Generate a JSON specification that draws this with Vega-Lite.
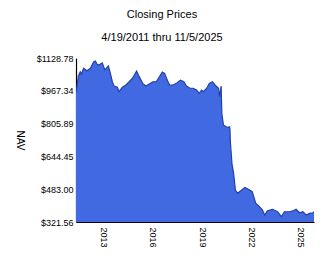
{
  "$schema": "https://vega.github.io/schema/vega-lite/v6.json",
  "width": 238,
  "height": 164,
  "autosize": "none",
  "padding": {"left": 76, "top": 58, "right": 10, "bottom": 45},
  "background": "white",
  "config": {
    "view": {"stroke": null},
    "font": "Liberation Sans",
    "axis": {"grid": false, "ticks": false, "domainColor": "black", "domainWidth": 1.2, "labelColor": "black", "labelFont": "Liberation Sans", "labelFontSize": 9, "titleFont": "Liberation Sans", "titleColor": "black", "titleFontWeight": "normal"}
  },
  "title": {
    "text": "Closing Prices",
    "subtitle": "4/19/2011 thru 11/5/2025",
    "font": "Liberation Sans",
    "fontSize": 11,
    "fontWeight": "normal",
    "color": "black",
    "subtitleFont": "Liberation Sans",
    "subtitleFontSize": 11,
    "subtitleColor": "black",
    "subtitlePadding": 12,
    "anchor": "middle",
    "dx": -33,
    "offset": 11
  },
  "data": {"values": [
    {"date": "2011-04-19", "nav": 960},
    {"date": "2011-05-08", "nav": 984},
    {"date": "2011-06-10", "nav": 1040},
    {"date": "2011-07-23", "nav": 1061},
    {"date": "2011-08-20", "nav": 1050},
    {"date": "2011-10-05", "nav": 1078},
    {"date": "2011-12-20", "nav": 1066},
    {"date": "2012-03-07", "nav": 1078},
    {"date": "2012-05-19", "nav": 1110},
    {"date": "2012-06-25", "nav": 1114},
    {"date": "2012-08-01", "nav": 1098},
    {"date": "2012-09-09", "nav": 1094},
    {"date": "2012-11-25", "nav": 1105},
    {"date": "2013-01-23", "nav": 1070},
    {"date": "2013-04-10", "nav": 1089},
    {"date": "2013-05-16", "nav": 1061},
    {"date": "2013-07-09", "nav": 1012},
    {"date": "2013-08-15", "nav": 991},
    {"date": "2013-10-27", "nav": 985},
    {"date": "2013-12-06", "nav": 963},
    {"date": "2014-02-17", "nav": 985},
    {"date": "2014-05-05", "nav": 996},
    {"date": "2014-07-20", "nav": 1012},
    {"date": "2014-10-01", "nav": 1029},
    {"date": "2015-01-01", "nav": 1065},
    {"date": "2015-02-28", "nav": 1037},
    {"date": "2015-05-16", "nav": 1004},
    {"date": "2015-07-31", "nav": 991},
    {"date": "2015-10-12", "nav": 1001},
    {"date": "2015-12-28", "nav": 1012},
    {"date": "2016-03-14", "nav": 1012},
    {"date": "2016-05-27", "nav": 1037},
    {"date": "2016-07-28", "nav": 1060},
    {"date": "2016-09-17", "nav": 1053},
    {"date": "2016-12-02", "nav": 1012},
    {"date": "2017-01-08", "nav": 996},
    {"date": "2017-03-25", "nav": 996},
    {"date": "2017-06-06", "nav": 1004},
    {"date": "2017-09-05", "nav": 1020},
    {"date": "2017-11-21", "nav": 1012},
    {"date": "2018-01-19", "nav": 991},
    {"date": "2018-04-05", "nav": 980},
    {"date": "2018-06-18", "nav": 980},
    {"date": "2018-09-02", "nav": 971},
    {"date": "2018-10-30", "nav": 955},
    {"date": "2018-12-24", "nav": 971},
    {"date": "2019-01-30", "nav": 963},
    {"date": "2019-04-16", "nav": 980},
    {"date": "2019-06-13", "nav": 1004},
    {"date": "2019-08-21", "nav": 1012},
    {"date": "2019-10-19", "nav": 996},
    {"date": "2020-01-05", "nav": 980},
    {"date": "2020-01-27", "nav": 938},
    {"date": "2020-03-03", "nav": 991},
    {"date": "2020-03-18", "nav": 857},
    {"date": "2020-04-23", "nav": 799},
    {"date": "2020-07-09", "nav": 788},
    {"date": "2020-09-09", "nav": 790},
    {"date": "2020-09-16", "nav": 774},
    {"date": "2020-09-24", "nav": 717},
    {"date": "2020-10-30", "nav": 610},
    {"date": "2020-12-06", "nav": 561},
    {"date": "2021-01-15", "nav": 479},
    {"date": "2021-03-07", "nav": 463},
    {"date": "2021-05-08", "nav": 474},
    {"date": "2021-08-15", "nav": 492},
    {"date": "2021-11-10", "nav": 482},
    {"date": "2022-01-26", "nav": 471},
    {"date": "2022-04-13", "nav": 414},
    {"date": "2022-06-25", "nav": 400},
    {"date": "2022-09-09", "nav": 381},
    {"date": "2022-10-30", "nav": 356},
    {"date": "2023-01-01", "nav": 377},
    {"date": "2023-04-23", "nav": 384},
    {"date": "2023-08-15", "nav": 372},
    {"date": "2023-11-10", "nav": 348},
    {"date": "2024-01-12", "nav": 372},
    {"date": "2024-05-05", "nav": 372},
    {"date": "2024-07-20", "nav": 376},
    {"date": "2024-10-01", "nav": 384},
    {"date": "2024-12-17", "nav": 367},
    {"date": "2025-02-28", "nav": 372},
    {"date": "2025-05-16", "nav": 356},
    {"date": "2025-07-27", "nav": 364},
    {"date": "2025-10-12", "nav": 367},
    {"date": "2025-11-05", "nav": 372}
  ]},
  "mark": {"type": "area", "color": "#4169E1", "opacity": 1, "clip": true, "line": {"color": "#2541a8", "strokeWidth": 1.2}},
  "encoding": {
    "x": {
      "field": "date", "type": "temporal",
      "scale": {"domain": ["2011-04-19", "2025-11-05"], "nice": false},
      "axis": {"title": null, "format": "%Y", "labelAngle": 90, "labelPadding": 5,
        "values": [{"year": 2013, "month": 1, "date": 1}, {"year": 2016, "month": 1, "date": 1}, {"year": 2019, "month": 1, "date": 1}, {"year": 2022, "month": 1, "date": 1}, {"year": 2025, "month": 1, "date": 1}]}
    },
    "y": {
      "field": "nav", "type": "quantitative",
      "scale": {"domain": [321.56, 1128.78], "zero": false, "nice": false},
      "axis": {"title": "NAV", "titleAngle": 90, "titleFontSize": 10, "titleX": -57, "titleY": 82, "titleAlign": "center", "titleBaseline": "middle", "format": "$.2f", "labelPadding": 3,
        "values": [321.56, 483.00, 644.45, 805.89, 967.34, 1128.78]}
    },
    "y2": {"datum": 321.56}
  }
}
